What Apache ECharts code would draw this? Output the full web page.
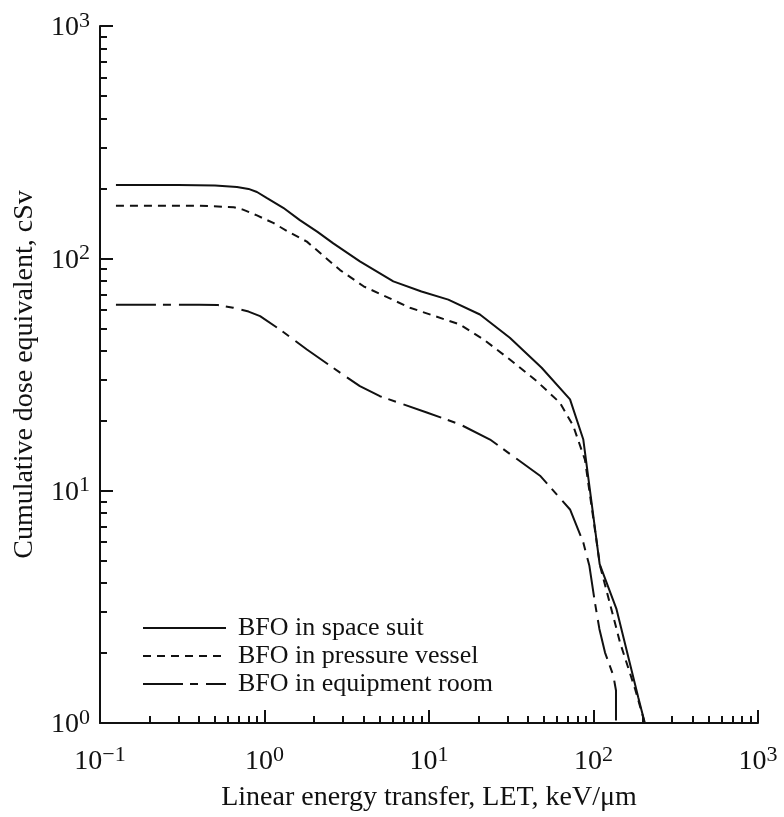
<!DOCTYPE html>
<html>
<head>
<meta charset="utf-8">
<script src="https://cdn.jsdelivr.net/npm/echarts@6/dist/echarts.min.js"></script>
<style>
html,body{margin:0;padding:0;background:#fff;}
#chart{width:784px;height:817px;}
</style>
</head>
<body>
<div id="chart"></div>
<script>
// ---- data ----
const seriesNames = ['BFO in space suit', 'BFO in pressure vessel', 'BFO in equipment room'];

const suitLET  = [0.125, 0.3, 0.5, 0.68, 0.8, 0.9, 1.03, 1.3, 1.64, 2.1, 2.62, 3.8, 6.07, 9.0, 13.1, 20.4, 31, 48.4, 72, 86.7, 109, 138, 187, 205];
const suitDose = [206.7, 206.7, 206, 203, 199, 193, 182, 165, 146, 130, 116, 97, 79.6, 72, 66.4, 57.3, 45.5, 33.8, 24.7, 16.6, 4.83, 3.09, 1.29, 1.0];

const vesselLET  = [0.125, 0.4, 0.65, 0.74, 0.9, 1.13, 1.4, 1.81, 2.3, 2.88, 4.0, 7.66, 15.4, 21.4, 31, 45.2, 62.5, 75.3, 88.7, 109.6, 145, 179, 205];
const vesselDose = [168.5, 168.5, 166, 162, 153, 142, 130, 118, 102, 89, 75.8, 61.3, 51.9, 44.8, 36.7, 29.6, 23.9, 19.0, 13.6, 4.75, 2.22, 1.4, 1.0];

const roomLET  = [0.125, 0.4, 0.52, 0.645, 0.8, 0.94, 1.24, 1.81, 2.88, 3.8, 5.03, 9.69, 15.4, 23.5, 47.3, 72, 86.7, 94.4, 102, 108.6, 117.5, 132, 137, 137];
const roomDose = [63.2, 63.2, 63, 61.3, 59, 56.4, 49.4, 40.5, 32.2, 28.2, 25.5, 21.7, 19.3, 16.6, 11.6, 8.3, 5.98, 4.75, 3.3, 2.54, 2.01, 1.6, 1.38, 1.0];

const xTickValues = [0.1, 1, 10, 100, 1000];
const xTickExps   = ['\u22121', '0', '1', '2', '3'];
const yTickValues = [1, 10, 100, 1000];
const yTickExps   = ['0', '1', '2', '3'];
const xMinorTicks = [0.2,0.3,0.4,0.5,0.6,0.7,0.8,0.9, 2,3,4,5,6,7,8,9, 20,30,40,50,60,70,80,90, 200,300,400,500,600,700,800,900];
const yMinorTicks = [2,3,4,5,6,7,8,9, 20,30,40,50,60,70,80,90, 200,300,400,500,600,700,800,900];

const xTitle = 'Linear energy transfer, LET, keV/\u03bcm';
const yTitle = 'Cumulative dose equivalent, cSv';

// ---- chart ----
const FONT = '"Liberation Serif", "Times New Roman", serif';
const BLACK = '#111';

function pairs(xs, ys) { return xs.map((x, i) => [x, ys[i]]); }
function fmt(values, exps) {
  return function (v) {
    let idx = values.findIndex(t => Math.abs(t - v) / t < 1e-6);
    if (idx < 0) return '';
    return '{b|10}{s|' + exps[idx] + '}';
  };
}
const rich = {
  b: { fontSize: 28, fontFamily: FONT, color: BLACK, lineHeight: 32, verticalAlign: 'bottom' },
  s: { fontSize: 22, fontFamily: FONT, color: BLACK, lineHeight: 20, verticalAlign: 'top' }
};

const chart = echarts.init(document.getElementById('chart'), null, { renderer: 'canvas' });

const axisLineStyle = { show: true, lineStyle: { color: BLACK, width: 2 } };

const option = {
  animation: false,
  backgroundColor: '#fff',
  grid: { left: 100, right: 26, top: 26, bottom: 93, containLabel: false },
  legend: {
    orient: 'vertical',
    left: 137,
    top: 609,
    itemWidth: 83,
    itemHeight: 14,
    itemGap: 0,
    selectedMode: false,
    data: seriesNames,
    itemStyle: { color: 'rgba(0,0,0,0)', borderWidth: 0, opacity: 0 },
    textStyle: { fontFamily: FONT, fontSize: 26, color: BLACK, lineHeight: 28, padding: [0, 0, 0, 7] }
  },
  xAxis: [
    {
      type: 'log', logBase: 10, min: 0.1, max: 1000,
      position: 'bottom',
      axisLine: axisLineStyle,
      axisTick: { show: true, inside: true, length: 13, lineStyle: { color: BLACK, width: 2 }, customValues: xTickValues },
      axisLabel: { show: true, margin: 21, customValues: xTickValues, formatter: fmt(xTickValues, xTickExps), rich: rich },
      splitLine: { show: false },
      minorTick: { show: false },
      name: xTitle,
      nameLocation: 'middle',
      nameGap: 61,
      nameTextStyle: { fontFamily: FONT, fontSize: 28, color: BLACK }
    },
    {
      type: 'log', logBase: 10, min: 0.1, max: 1000,
      position: 'bottom',
      axisLine: { show: false },
      axisTick: { show: true, inside: true, length: 7, lineStyle: { color: BLACK, width: 2 }, customValues: xMinorTicks },
      axisLabel: { show: false },
      splitLine: { show: false }
    }
  ],
  yAxis: [
    {
      type: 'log', logBase: 10, min: 1, max: 1000,
      position: 'left',
      axisLine: axisLineStyle,
      axisTick: { show: true, inside: true, length: 13, lineStyle: { color: BLACK, width: 2 }, customValues: yTickValues },
      axisLabel: { show: true, margin: 10, customValues: yTickValues, formatter: fmt(yTickValues, yTickExps), rich: rich },
      splitLine: { show: false },
      name: yTitle,
      nameLocation: 'middle',
      nameGap: 61,
      nameRotate: 90,
      nameTextStyle: { fontFamily: FONT, fontSize: 28, color: BLACK }
    },
    {
      type: 'log', logBase: 10, min: 1, max: 1000,
      position: 'left',
      axisLine: { show: false },
      axisTick: { show: true, inside: true, length: 7, lineStyle: { color: BLACK, width: 2 }, customValues: yMinorTicks },
      axisLabel: { show: false },
      splitLine: { show: false }
    }
  ],
  series: [
    {
      name: seriesNames[0], type: 'line', xAxisIndex: 0, yAxisIndex: 0,
      data: pairs(suitLET, suitDose), symbol: 'none', smooth: false,
      lineStyle: { color: BLACK, width: 2, type: 'solid' }, itemStyle: { color: BLACK }
    },
    {
      name: seriesNames[1], type: 'line', xAxisIndex: 0, yAxisIndex: 0,
      data: pairs(vesselLET, vesselDose), symbol: 'none', smooth: false,
      lineStyle: { color: BLACK, width: 2, type: [8, 6] }, itemStyle: { color: BLACK }
    },
    {
      name: seriesNames[2], type: 'line', xAxisIndex: 0, yAxisIndex: 0,
      data: pairs(roomLET, roomDose), symbol: 'none', smooth: false,
      lineStyle: { color: BLACK, width: 2, type: [40, 7, 8, 8] }, itemStyle: { color: BLACK }
    }
  ]
};
chart.setOption(option);
</script>
</body>
</html>
